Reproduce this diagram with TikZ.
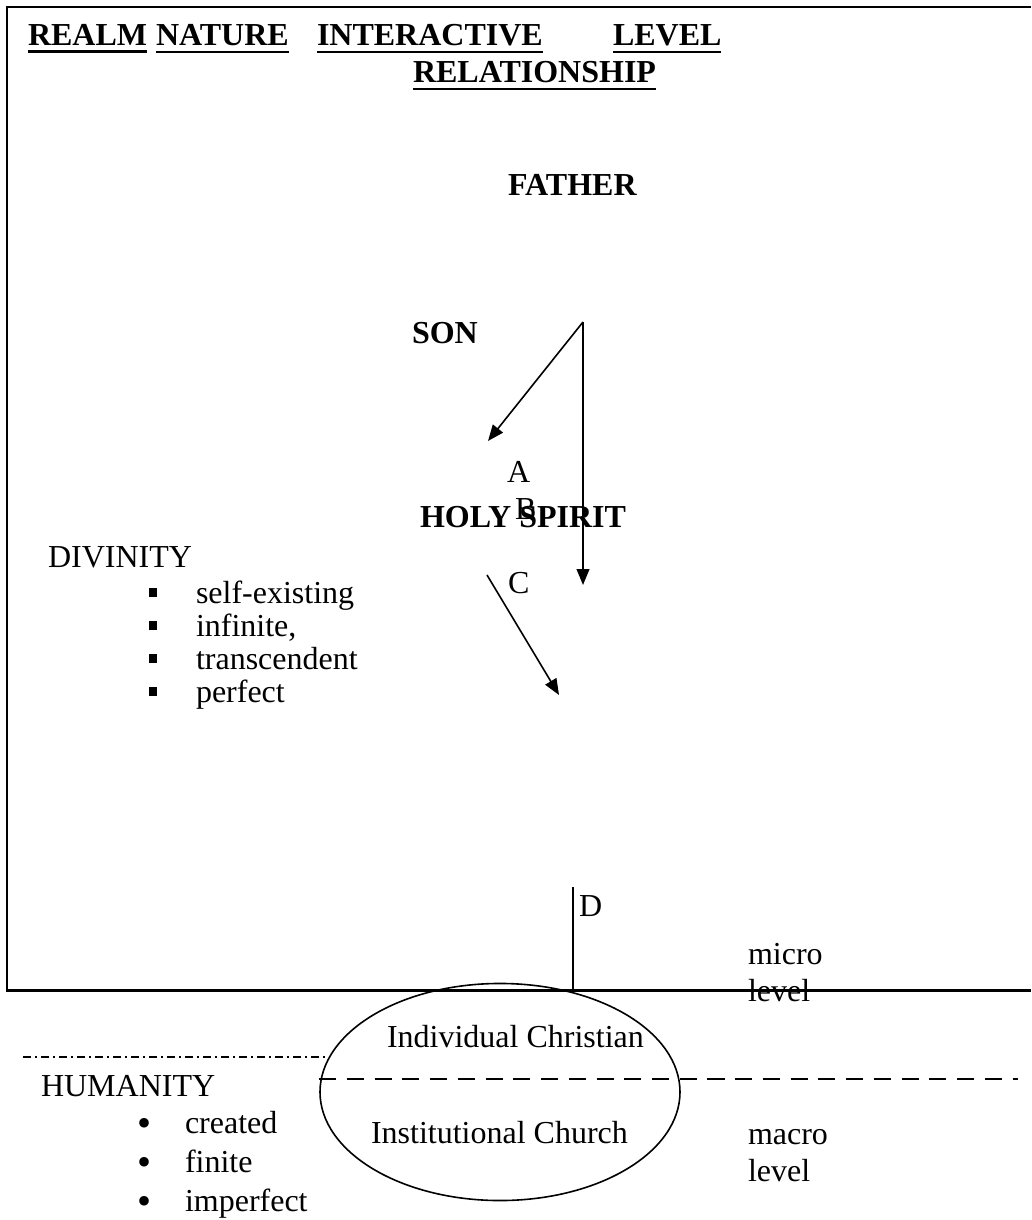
\documentclass[tikz,border=0pt]{standalone}
\usepackage{fontspec}
\setmainfont{Liberation Serif}
\usetikzlibrary{arrows.meta,shapes.geometric}
\newcommand{\hdrline}[1]{\vtop{\hbox{#1}\kern1.6pt\hrule height 0.9pt}}
\newcommand{\sqbul}{\llap{\rule[2.2pt]{3.2pt}{3.5pt}\hspace{14.6pt}}}
\newcommand{\dotbul}{\llap{\raisebox{-1.2pt}{\scalebox{1.25}{\textbullet}}\hspace{12.6pt}}}

\begin{document}
\begin{tikzpicture}[x=0.375pt,y=-0.375pt,
		txt/.style={anchor=base west,inner sep=0pt,outer sep=0pt,font=\fontsize{12}{13.8}\selectfont},
		hdr/.style={txt,font=\fontsize{12}{13.8}\selectfont\bfseries},
		arr/.style={line width=0.6pt,-{Triangle[length=6pt,width=4.8pt]}}]
		\useasboundingbox (0,0) rectangle (1031,1220);
		\draw[line width=0.8pt] (1031,7) -- (7,7) -- (7,990.5) -- (1031,990.5);
		\node[hdr] (realm) at (28,46) {\hdrline{REALM}};
		\node[hdr] (nature) at (156,46) {\hdrline{NATURE}};
		\node[hdr] (interactive) at (317,46) {\hdrline{INTERACTIVE}};
		\node[hdr] (level) at (613,46) {\hdrline{LEVEL}};
		\node[hdr] (relationship) at (413,83) {\hdrline{RELATIONSHIP}};
		\node[hdr] (father) at (508,196) {FATHER};
		\node[hdr] (son) at (412,343) {SON};
		\node[txt] (a) at (507,482) {A};
		\node[txt] (b) at (515,519) {B};
		\node[hdr] (spirit) at (420,527) {HOLY SPIRIT};
		\node[txt] (c) at (508,593) {C};
		\node[txt] (d) at (579,916) {D};
		\coordinate (fork) at (583,322);
		\coordinate (sontip) at (488,441);
		\coordinate (downtip) at (583,585);
		\coordinate (cstart) at (487,575);
		\coordinate (ctip) at (559,695);
		\coordinate (dtop) at (573,887);
		\coordinate (dfoot) at (573,991);
		\draw[arr] (fork) -- (sontip);
		\draw[arr] (fork) -- (downtip);
		\draw[arr] (cstart) -- (ctip);
		\draw[line width=0.6pt] (dtop) -- (dfoot);
		\node[txt] (divinity) at (48,567) {DIVINITY};
		\node[txt] (div1) at (196,603) {\sqbul self-existing};
		\node[txt] (div2) at (196,636) {\sqbul infinite,};
		\node[txt] (div3) at (196,669) {\sqbul transcendent};
		\node[txt] (div4) at (196,702) {\sqbul perfect};
		\node[draw,ellipse,line width=0.6pt,minimum width=135pt,minimum height=81.4pt,inner sep=0pt] (circ) at (500,1092) {};
		\node[txt] (individual) at (387,1047) {Individual Christian};
		\node[txt] (institutional) at (371,1143) {Institutional Church};
		\coordinate (dashend) at (1018,1079);
		\coordinate (dotstart) at (23,1057);
		\coordinate (dotend) at (325,1057);
		\draw[line width=0.75pt,dash pattern=on 6.4pt off 4pt] (circ.west |- dashend) -- (dashend);
		\draw[line width=0.5pt,dash pattern=on 3pt off 1.5pt on 0.75pt off 1.5pt] (dotstart) -- (dotend);
		\node[txt] (micro) at (748,964) {micro};
		\node[txt] (microlvl) at (748,1001) {level};
		\node[txt] (macro) at (748,1144) {macro};
		\node[txt] (macrolvl) at (748,1181) {level};
		\node[txt] (humanity) at (41,1096) {HUMANITY};
		\node[txt] (hum1) at (185,1133) {\dotbul created};
		\node[txt] (hum2) at (185,1172) {\dotbul finite};
		\node[txt] (hum3) at (185,1211) {\dotbul imperfect};
\end{tikzpicture}
\end{document}
